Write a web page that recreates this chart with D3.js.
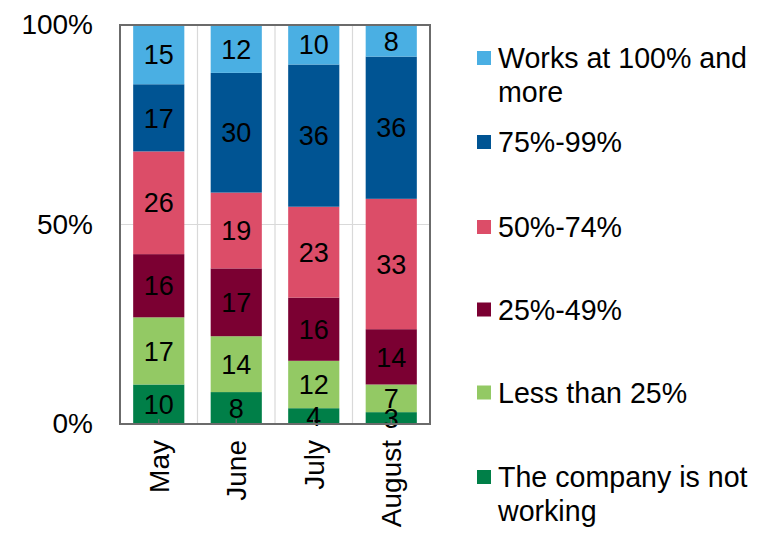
<!DOCTYPE html>
<html>
<head>
<meta charset="utf-8">
<script src="https://cdn.jsdelivr.net/npm/d3@7/dist/d3.min.js"></script>
<style>
  html, body { margin: 0; padding: 0; background: #fff; }
  svg { display: block; font-family: "Liberation Sans", Arial, sans-serif; }
</style>
</head>
<body>
<svg id="chart" width="769" height="534"></svg>
<script>
// Capacity utilisation of companies by month (shares of respondents)
const months = ["May", "June", "July", "August"];
const seriesNames = [
  "The company is not working",
  "Less than 25%",
  "25%-49%",
  "50%-74%",
  "75%-99%",
  "Works at 100% and more"
];
const seriesColors = ["#007f48", "#93c964", "#7b0032", "#dc4d68", "#005493", "#4aafe3"];
const notWorking  = [10, 8, 4, 3];
const below25     = [17, 14, 12, 7];
const from25to49  = [16, 17, 16, 14];
const from50to74  = [26, 19, 23, 33];
const from75to99  = [17, 30, 36, 36];
const full100     = [15, 12, 10, 8];
const yTicks = [0, 0.5, 1];
const legendLines = [
  ["Works at 100% and", "more"],
  ["75%-99%"],
  ["50%-74%"],
  ["25%-49%"],
  ["Less than 25%"],
  ["The company is not", "working"]
];

const seriesValues = [notWorking, below25, from25to49, from50to74, from75to99, full100];

// one row per month, keyed by series name
const rows = months.map((m, i) => {
  const r = { month: m };
  seriesNames.forEach((s, k) => { r[s] = seriesValues[k][i]; });
  return r;
});

const svg = d3.select("#chart");
const plot = { left: 120, right: 430, top: 25, bottom: 424 };

const x = d3.scaleBand()
  .domain(months)
  .range([plot.left, plot.right])
  .paddingInner(0.34)
  .paddingOuter(0.17);
const y = d3.scaleLinear().domain([0, 1]).range([plot.bottom, plot.top]);

// 100% stacked layout
const stack = d3.stack().keys(seriesNames).offset(d3.stackOffsetExpand);
const layers = stack(rows);

// gridlines
const step = x.step();
const gridX = months.slice(1).map(m => x(m) - (step - x.bandwidth()) / 2);
svg.append("g").selectAll("line").data(gridX).join("line")
  .attr("x1", d => d).attr("x2", d => d)
  .attr("y1", plot.top).attr("y2", plot.bottom)
  .attr("stroke", "#d9d9d9").attr("stroke-width", 1.2);
svg.append("line")
  .attr("x1", plot.left).attr("x2", plot.right)
  .attr("y1", y(0.5)).attr("y2", y(0.5))
  .attr("stroke", "#d9d9d9").attr("stroke-width", 1.2);

// stacked bars
const layerG = svg.append("g").selectAll("g").data(layers).join("g")
  .attr("fill", (d, i) => seriesColors[i]);
layerG.selectAll("rect").data(d => d).join("rect")
  .attr("x", d => x(d.data.month))
  .attr("width", x.bandwidth())
  .attr("y", d => y(d[1]))
  .attr("height", d => y(d[0]) - y(d[1]));

// value labels
layers.forEach((layer, i) => {
  svg.append("g").selectAll("text").data(layer).join("text")
    .attr("x", d => x(d.data.month) + x.bandwidth() / 2)
    .attr("y", d => (y(d[0]) + y(d[1])) / 2)
    .attr("dy", "0.36em")
    .attr("text-anchor", "middle")
    .attr("font-size", 27)
    .attr("fill", "#000")
    .text(d => d.data[seriesNames[i]]);
});

// frame
svg.append("rect")
  .attr("x", plot.left).attr("y", plot.top)
  .attr("width", plot.right - plot.left).attr("height", plot.bottom - plot.top)
  .attr("fill", "none").attr("stroke", "#6b6b6b").attr("stroke-width", 2);

// small category ticks on the bottom axis
svg.append("g").selectAll("line").data(months).join("line")
  .attr("x1", d => x(d) + x.bandwidth() / 2).attr("x2", d => x(d) + x.bandwidth() / 2)
  .attr("y1", plot.bottom).attr("y2", plot.bottom - 5)
  .attr("stroke", "#6b6b6b").attr("stroke-width", 1.5);

// y axis labels
const yAxis = d3.axisLeft(y).tickValues(yTicks).tickFormat(d3.format(".0%")).tickSize(0).tickPadding(27);
const yG = svg.append("g").attr("transform", `translate(${plot.left},0)`).call(yAxis);
yG.select(".domain").remove();
yG.selectAll("text").attr("font-size", 28).attr("font-family", "Liberation Sans, Arial, sans-serif").attr("fill", "#000");

// x axis labels, rotated
const xAxis = d3.axisBottom(x).tickSize(0).tickPadding(0);
const xG = svg.append("g").attr("transform", `translate(0,${plot.bottom})`).call(xAxis);
xG.select(".domain").remove();
xG.selectAll("text")
  .attr("font-size", 28).attr("font-family", "Liberation Sans, Arial, sans-serif").attr("fill", "#000")
  .attr("text-anchor", "end")
  .attr("transform", "rotate(-90)")
  .attr("x", -16).attr("y", 0).attr("dy", "0.35em");

// legend
const legendOrder = [5, 4, 3, 2, 1, 0];
const baselines = [68, 152, 237, 319.5, 402.5, 487];
const lg = svg.append("g");
legendOrder.forEach((k, j) => {
  const g = lg.append("g");
  g.append("rect")
    .attr("x", 477).attr("y", baselines[j] - 17)
    .attr("width", 14).attr("height", 14)
    .attr("fill", seriesColors[k]);
  const t = g.append("text")
    .attr("x", 498).attr("y", baselines[j])
    .attr("font-size", 28.6).attr("fill", "#000");
  legendLines[j].forEach((line, li) => {
    t.append("tspan").attr("x", 498).attr("dy", li === 0 ? 0 : 33.5).text(line);
  });
});
</script>
</body>
</html>
